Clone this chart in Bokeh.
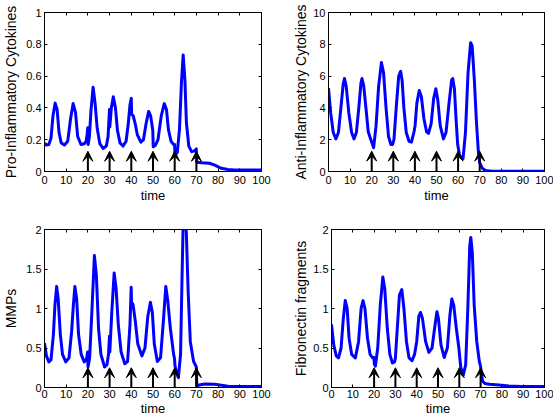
from bokeh.plotting import figure
from bokeh.models import Range1d, LinearAxis, FixedTicker, Arrow, VeeHead, ColumnDataSource
from bokeh.layouts import column, row
from bokeh.embed import file_html
from bokeh.resources import INLINE

# ---------------- data ----------------
pro_t = [0, 0.8, 2.0, 3.0, 3.9, 4.9, 5.8, 6.7, 7.7, 9.2, 10.7, 12.0, 13.2, 14.3, 15.3, 16.8, 18.3, 19.2, 19.6, 19.95,
         20.1, 20.7, 21.4, 22.4, 23.3, 24.3, 25.5, 27.0, 28.5, 29.3, 29.95, 30.1, 30.8, 31.7, 32.7, 33.6, 34.8, 36.2,
         37.6, 38.6, 39.4, 40.0, 40.15, 40.9, 41.8, 42.8, 44.4, 45.6, 46.8, 48.0, 48.9, 49.9, 50.1, 51.1, 52.3, 53.8,
         55.2, 56.2, 57.1, 58.3, 59.5, 59.95, 60.15, 61.2, 62.2, 63.1, 63.9, 64.7, 65.4, 66.5, 67.8, 69.2, 69.95, 70.2,
         72.5, 76.0, 78.5, 81.5, 84.5, 87.5, 100]
pro_v = [0.18, 0.167, 0.17, 0.21, 0.35, 0.43, 0.39, 0.245, 0.18, 0.167, 0.19, 0.33, 0.427, 0.37, 0.22, 0.17, 0.175,
         0.19, 0.23, 0.275, 0.17, 0.22, 0.38, 0.53, 0.43, 0.27, 0.175, 0.145, 0.16, 0.22, 0.39, 0.28, 0.40, 0.47, 0.40,
         0.26, 0.18, 0.16, 0.19, 0.30, 0.42, 0.46, 0.36, 0.35, 0.30, 0.23, 0.185, 0.20, 0.30, 0.378, 0.35, 0.26, 0.155,
         0.165, 0.20, 0.35, 0.427, 0.39, 0.265, 0.19, 0.17, 0.17, 0.10, 0.12, 0.265, 0.556, 0.733, 0.577, 0.306, 0.16,
         0.125, 0.13, 0.142, 0.058, 0.055, 0.052, 0.04, 0.02, 0.013, 0.01, 0.01]

anti_t = [0, 1.0, 2.2, 3.4, 4.6, 5.8, 6.8, 7.4, 8.2, 9.4, 10.7, 11.8, 12.9, 14.1, 15.0, 15.5, 16.3, 17.4, 18.4, 19.5,
          20.0, 20.9, 22.0, 23.2, 24.5, 25.5, 26.7, 27.8, 28.9, 29.7, 30.3, 31.4, 32.5, 33.4, 34.1, 34.9, 36.0, 37.3,
          38.4, 39.6, 40.1, 40.9, 42.0, 43.0, 44.2, 45.4, 46.3, 47.5, 48.7, 49.7, 50.6, 51.7, 53.2, 54.4, 55.8, 57.0,
          57.5, 58.3, 59.1, 59.8, 60.7, 62.3, 63.4, 64.6, 65.8, 66.5, 67.5, 68.5, 69.4, 70.0, 71.2, 72.7, 75.7, 100]
anti_v = [5.25, 3.7, 2.45, 2.05, 2.45, 4.1, 5.5, 5.85, 5.35, 3.7, 2.45, 2.05, 2.45, 4.1, 5.55, 5.85, 5.4, 3.9, 2.5,
          2.05, 1.85, 1.5, 2.85, 5.35, 6.85, 6.2, 3.9, 2.2, 1.7, 1.7, 2.0, 4.1, 6.0, 6.3, 5.7, 4.0, 2.45, 1.9, 1.85,
          2.5, 2.9, 4.3, 5.1, 4.7, 3.3, 2.5, 2.4, 3.0, 4.6, 5.2, 4.5, 2.9, 2.05, 2.45, 4.3, 5.75, 5.85, 5.2, 3.2, 1.7,
          1.0, 0.82, 2.44, 6.2, 8.1, 7.9, 5.8, 3.1, 1.2, 0.56, 0.2, 0.06, 0.02, 0.02]

mmp_t = [0, 0.9, 2.0, 3.0, 4.1, 4.8, 5.6, 6.3, 7.3, 8.3, 9.8, 11.3, 12.5, 13.3, 14.0, 14.8, 15.7, 16.9, 18.3, 19.3,
         19.9, 20.05, 20.8, 21.9, 23.0, 23.9, 24.9, 26.0, 27.7, 28.8, 29.5, 29.95, 30.1, 31.0, 32.1, 33.0, 34.0, 35.3,
         37.0, 38.3, 39.4, 39.95, 40.1, 40.8, 41.8, 43.0, 44.9, 46.3, 47.6, 48.8, 49.7, 50.6, 52.0, 53.5, 54.8, 55.9,
         56.8, 58.0, 59.5, 59.95, 60.1, 61.0, 61.7, 62.7, 63.4, 64.0, 64.5, 65.2, 66.2, 67.2, 68.7, 69.95, 70.2, 71.8,
         74.0, 78.5, 84.6, 100]
mmp_v = [0.56, 0.4, 0.325, 0.35, 0.67, 1.04, 1.28, 1.125, 0.67, 0.42, 0.325, 0.375, 0.71, 1.04, 1.28, 1.125, 0.67,
         0.42, 0.325, 0.35, 0.45, 0.26, 0.375, 1.0, 1.67, 1.42, 0.75, 0.42, 0.26, 0.29, 0.42, 0.65, 0.45, 0.95, 1.45,
         1.25, 0.8, 0.45, 0.3, 0.33, 0.8, 1.27, 1.08, 1.05, 0.85, 0.55, 0.4, 0.5, 0.9, 1.08, 0.95, 0.55, 0.33, 0.38,
         0.85, 1.28, 1.1, 0.75, 0.42, 0.36, 0.28, 0.17, 0.125, 0.42, 1.42, 2.2, 2.4, 2.1, 1.21, 0.58, 0.33, 0.26, 0.02,
         0.035, 0.045, 0.04, 0.017, 0.0125]

fib_t = [0, 1.05, 2.25, 3.3, 4.5, 5.55, 6.45, 7.35, 8.25, 9.45, 11.2, 12.7, 13.9, 14.8, 15.7, 16.9, 18.1, 19.3, 19.95,
         20.1, 20.6, 21.7, 22.9, 24.1, 25.0, 26.2, 27.4, 28.6, 29.6, 30.0, 30.7, 31.9, 33.0, 34.0, 35.2, 36.4, 37.8,
         39.0, 40.0, 41.0, 41.8, 42.7, 44.2, 45.7, 47.2, 48.4, 49.5, 50.2, 51.4, 52.9, 54.4, 55.6, 56.5, 57.4, 58.6,
         59.8, 60.7, 61.9, 63.0, 64.0, 64.9, 65.4, 66.1, 67.0, 68.2, 69.4, 69.95, 70.9, 72.0, 74.2, 78.7, 83.2, 89.2, 100]
fib_v = [0.8, 0.54, 0.40, 0.375, 0.5, 0.875, 1.1, 1.0, 0.625, 0.42, 0.375, 0.58, 1.0, 1.1, 1.0, 0.625, 0.42, 0.375,
         0.38, 0.3, 0.27, 0.5, 1.04, 1.4, 1.25, 0.75, 0.42, 0.31, 0.325, 0.37, 0.67, 1.17, 1.24, 1.0, 0.58, 0.375,
         0.34, 0.42, 0.58, 0.9, 0.95, 0.875, 0.58, 0.445, 0.5, 0.75, 0.96, 0.875, 0.54, 0.38, 0.5, 0.92, 1.12, 1.04,
         0.75, 0.5, 0.25, 0.16, 0.29, 1.0, 1.79, 1.9, 1.71, 1.04, 0.58, 0.33, 0.27, 0.083, 0.05, 0.042, 0.033, 0.02,
         0.0125, 0.0125]

treatment_times = [20, 30, 40, 50, 60, 70]

x_ticks = [0, 10, 20, 30, 40, 50, 60, 70, 80, 90, 100]
pro_yticks = [0, 0.2, 0.4, 0.6, 0.8, 1]
pro_ylabels = ["0", "0.2", "0.4", "0.6", "0.8", "1"]
anti_yticks = [0, 2, 4, 6, 8, 10]
anti_ylabels = ["0", "2", "4", "6", "8", "10"]
half_yticks = [0, 0.5, 1, 1.5, 2]
half_ylabels = ["0", "0.5", "1", "1.5", "2"]

FONT = "Liberation Sans"


def add_box_axis(p, ticks, place):
    ax = LinearAxis(ticker=FixedTicker(ticks=ticks))
    ax.major_label_text_color = None
    ax.major_label_text_font_size = "1px"
    ax.major_label_standoff = 0
    ax.major_tick_in = 3
    ax.major_tick_out = 0
    ax.minor_tick_line_color = None
    ax.axis_line_color = "black"
    ax.major_tick_line_color = "black"
    p.add_layout(ax, place)


def make_panel(t, v, ylabel, ymax, yticks, ylabels, tip, width, height, mbl, mbr, mbt, mbb,
               xstand, xlabstand, ylabstand):
    p = figure(width=width, height=height, x_range=Range1d(0, 100), y_range=Range1d(0, ymax),
               output_backend="svg", toolbar_location=None,
               min_border_left=mbl, min_border_right=mbr, min_border_top=mbt, min_border_bottom=mbb)
    p.grid.visible = False
    p.outline_line_color = "black"
    p.outline_line_width = 1
    p.background_fill_color = "white"
    p.border_fill_color = "white"

    p.line(t, v, line_color="#0000ff", line_width=3, line_join="round")

    src = ColumnDataSource(dict(x=treatment_times,
                                y0=[0] * len(treatment_times),
                                y1=[tip] * len(treatment_times)))
    p.add_layout(Arrow(end=VeeHead(size=10, fill_color="black", line_color="black", line_width=1),
                       x_start="x", y_start="y0", x_end="x", y_end="y1", source=src,
                       line_color="black", line_width=2))

    for ax in (p.xaxis[0], p.yaxis[0]):
        ax.major_tick_in = 3
        ax.major_tick_out = 0
        ax.minor_tick_line_color = None
        ax.axis_line_color = "black"
        ax.major_tick_line_color = "black"
        ax.major_label_text_font = FONT
        ax.major_label_text_font_size = "11px"
        ax.major_label_text_color = "black"
        ax.axis_label_text_font = FONT
        ax.axis_label_text_font_style = "normal"
        ax.axis_label_text_color = "black"

    p.xaxis.ticker = FixedTicker(ticks=x_ticks)
    p.xaxis.axis_label = "time"
    p.xaxis.axis_label_text_font_size = "13px"
    p.xaxis.major_label_standoff = xstand
    p.xaxis.axis_label_standoff = xlabstand

    p.yaxis.ticker = FixedTicker(ticks=yticks)
    p.yaxis.major_label_overrides = dict(zip(yticks, ylabels))
    p.yaxis.axis_label = ylabel
    p.yaxis.axis_label_text_font_size = "14px"
    p.yaxis.major_label_standoff = 3
    p.yaxis.axis_label_standoff = ylabstand

    add_box_axis(p, x_ticks, "above")
    add_box_axis(p, yticks, "right")
    return p


p1 = make_panel(pro_t, pro_v, "Pro-Inflammatory Cytokines", 1, pro_yticks, pro_ylabels, 0.127,
                290, 205, 40, 29, 12, 33, 4, 1, 4)
p2 = make_panel(anti_t, anti_v, "Anti-Inflammatory Cytokines", 10, anti_yticks, anti_ylabels, 1.28,
                263, 205, 32, 9, 12, 33, 4, 1, 1)
p3 = make_panel(mmp_t, mmp_v, "MMPs", 2, half_yticks, half_ylabels, 0.25,
                290, 213, 40, 29, 24, 29, 2, 0, 4)
p4 = make_panel(fib_t, fib_v, "Fibronectin fragments", 2, half_yticks, half_ylabels, 0.25,
                263, 213, 32, 9, 24, 29, 2, 0, 1)

layout = column(row(p1, p2), row(p3, p4))

open("out.html", "w").write(file_html(layout, INLINE))
